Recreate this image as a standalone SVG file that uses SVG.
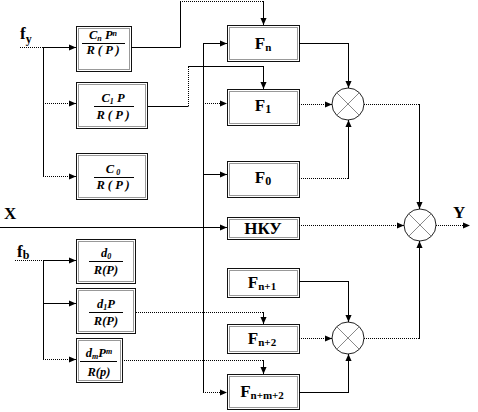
<svg xmlns="http://www.w3.org/2000/svg" width="478" height="412" viewBox="0 0 478 412">
<defs>
<marker id="ah" viewBox="0 0 8 8" refX="8" refY="4" markerWidth="7" markerHeight="7" markerUnits="userSpaceOnUse" orient="auto">
<path d="M0,0.5 L8,4 L0,7.5 Z" fill="#000"/>
</marker>
<style>
.s{fill:none;stroke:#000;stroke-width:1}
.d{fill:none;stroke:#000;stroke-width:1;stroke-dasharray:1 1}
.a{marker-end:url(#ah)}
.box{fill:#fff;stroke:#111;stroke-width:1}
.in{fill:none;stroke:#999;stroke-width:1}
.fr{font-family:"Liberation Serif",serif;font-weight:bold;font-style:italic;font-size:12.5px;text-anchor:middle}
.fl{stroke:#000;stroke-width:1}
.F{font-family:"Liberation Serif",serif;font-weight:bold;font-size:17px;text-anchor:middle}
.lb{font-family:"Liberation Serif",serif;font-weight:bold;font-size:17px}
.sum{fill:#fff;stroke:#222;stroke-width:1}
.x{stroke:#888;stroke-width:1}
</style>
</defs>

<g id="labels">
<text class="lb" x="20" y="39">f<tspan font-size="12" dy="4">y</tspan></text>
<text class="lb" x="17" y="257">f<tspan font-size="12" dy="2">b</tspan></text>
<text class="lb" x="4" y="219">X</text>
<text class="lb" x="453" y="218">Y</text>
</g>

<g id="Cn">
<rect class="box" x="76.5" y="26.5" width="55" height="45"/>
<rect class="in" x="78.5" y="28.5" width="51" height="41"/>
<text class="fr" x="103" y="39">C<tspan font-size="8" dy="2">n</tspan><tspan dy="-2"> P</tspan><tspan font-size="8" dy="-3">n</tspan></text>
<line class="fl" x1="82" y1="43.5" x2="125" y2="43.5"/>
<text class="fr" x="103" y="54">R ( P )</text>
</g>
<g id="C1">
<rect class="box" x="76.5" y="82.5" width="71" height="46"/>
<rect class="in" x="78.5" y="84.5" width="67" height="42"/>
<text class="fr" x="113" y="102">C<tspan font-size="8" dy="2">1</tspan><tspan dy="-2"> P</tspan></text>
<line class="fl" x1="94" y1="106.5" x2="134" y2="106.5"/>
<text class="fr" x="113" y="119">R ( P )</text>
</g>
<g id="C0">
<rect class="box" x="76.5" y="153.5" width="71" height="46"/>
<rect class="in" x="78.5" y="155.5" width="67" height="42"/>
<text class="fr" x="113" y="173">C<tspan font-size="8" dy="2"> 0</tspan></text>
<line class="fl" x1="94" y1="177.5" x2="134" y2="177.5"/>
<text class="fr" x="113" y="189">R ( P )</text>
</g>
<g id="d0">
<rect class="box" x="76.5" y="239.5" width="59" height="44"/>
<rect class="in" x="78.5" y="241.5" width="55" height="40"/>
<text class="fr" x="106" y="257">d<tspan font-size="8" dy="2">0</tspan></text>
<line class="fl" x1="89" y1="261.5" x2="123" y2="261.5"/>
<text class="fr" x="106" y="274">R(P)</text>
</g>
<g id="d1">
<rect class="box" x="76.5" y="288.5" width="59" height="45"/>
<rect class="in" x="78.5" y="290.5" width="55" height="41"/>
<text class="fr" x="106" y="308">d<tspan font-size="8" dy="2">1</tspan><tspan dy="-2">P</tspan></text>
<line class="fl" x1="89" y1="312.5" x2="123" y2="312.5"/>
<text class="fr" x="106" y="325">R(P)</text>
</g>
<g id="dm">
<rect class="box" x="76.5" y="338.5" width="46" height="44"/>
<rect class="in" x="78.5" y="340.5" width="42" height="40"/>
<text class="fr" x="99" y="357">d<tspan font-size="8" dy="2">m</tspan><tspan dy="-2">P</tspan><tspan font-size="8" dy="-3">m</tspan></text>
<line class="fl" x1="80" y1="361.5" x2="117" y2="361.5"/>
<text class="fr" x="99" y="376" font-size="13">R(p)</text>
</g>

<g id="Fn">
<rect class="box" x="227.5" y="25.5" width="72" height="36"/>
<rect class="in" x="229.5" y="27.5" width="68" height="32"/>
<text class="F" x="263" y="49">F<tspan font-size="11" dy="2">n</tspan></text>
</g>
<g id="F1">
<rect class="box" x="227.5" y="89.5" width="72" height="36"/>
<rect class="in" x="229.5" y="91.5" width="68" height="32"/>
<text class="F" x="263" y="111">F<tspan font-size="12" dy="2">1</tspan></text>
</g>
<g id="F0">
<rect class="box" x="227.5" y="161.5" width="72" height="36"/>
<rect class="in" x="229.5" y="163.5" width="68" height="32"/>
<text class="F" x="263" y="183">F<tspan font-size="12" dy="2">0</tspan></text>
</g>
<g id="NKU">
<rect class="box" x="227.5" y="217.5" width="72" height="22"/>
<rect class="in" x="229.5" y="219.5" width="68" height="18"/>
<text class="F" x="263" y="234" font-size="17">НКУ</text>
</g>
<g id="Fn1">
<rect class="box" x="227.5" y="268.5" width="72" height="29"/>
<rect class="in" x="229.5" y="270.5" width="68" height="25"/>
<text class="F" x="262" y="288">F<tspan font-size="11" dy="2">n+1</tspan></text>
</g>
<g id="Fn2">
<rect class="box" x="227.5" y="324.5" width="72" height="29"/>
<rect class="in" x="229.5" y="326.5" width="68" height="25"/>
<text class="F" x="262" y="344">F<tspan font-size="11" dy="2">n+2</tspan></text>
</g>
<g id="Fnm2">
<rect class="box" x="227.5" y="374.5" width="72" height="35"/>
<rect class="in" x="229.5" y="376.5" width="68" height="31"/>
<text class="F" x="262" y="397">F<tspan font-size="11" dy="2">n+m+2</tspan></text>
</g>

<g id="sum1">
<circle class="sum" cx="348" cy="104" r="16"/>
<line class="x" x1="336.7" y1="92.7" x2="359.3" y2="115.3"/>
<line class="x" x1="359.3" y1="92.7" x2="336.7" y2="115.3"/>
</g>
<g id="sum2">
<circle class="sum" cx="420" cy="225" r="16"/>
<line class="x" x1="408.7" y1="213.7" x2="431.3" y2="236.3"/>
<line class="x" x1="431.3" y1="213.7" x2="408.7" y2="236.3"/>
</g>
<g id="sum3">
<circle class="sum" cx="348" cy="338" r="16"/>
<line class="x" x1="336.7" y1="326.7" x2="359.3" y2="349.3"/>
<line class="x" x1="359.3" y1="326.7" x2="336.7" y2="349.3"/>
</g>

<g id="connectors">
<path class="d" d="M20,47.5 H43"/>
<path class="s a" d="M43,47.5 H76"/>
<path class="s" d="M43.5,47 V176"/>
<path class="d a" d="M43,103.5 H76"/>
<path class="d a" d="M43,176.5 H76"/>
<path class="s" d="M131,47.5 H180.5 V1.5"/>
<path class="d" d="M180,1.5 H263"/>
<path class="s a" d="M263.5,1 V25"/>
<path class="s" d="M148,106.5 H188.5"/>
<path class="d" d="M188.5,106 V66.5"/>
<path class="s" d="M188,66.5 H263.5"/>
<path class="s a" d="M263.5,66 V89"/>
<path class="s" d="M203.5,43 V392.5"/>
<path class="s a" d="M203,43.5 H227"/>
<path class="d a" d="M203,103.5 H227"/>
<path class="s a" d="M203,174.5 H227"/>
<path class="s a" d="M0,227.5 H227"/>
<path class="d a" d="M203,392.5 H227"/>
<path class="s" d="M299,43.5 H348.5"/>
<path class="s a" d="M348.5,43 V88"/>
<path class="d a" d="M299,104.5 H332"/>
<path class="d" d="M299,178.5 H348.5"/>
<path class="s a" d="M348.5,179 V120"/>
<path class="d" d="M364,104.5 H419.5"/>
<path class="s a" d="M419.5,104 V209"/>
<path class="d a" d="M299,225.5 H404"/>
<path class="d a" d="M436,225.5 H470"/>
<path class="s" d="M299,281.5 H348.5"/>
<path class="s a" d="M348.5,281 V322"/>
<path class="d a" d="M299,338.5 H332"/>
<path class="s" d="M299,392.5 H348.5"/>
<path class="s a" d="M348.5,393 V354"/>
<path class="d" d="M364,338.5 H419.5"/>
<path class="s a" d="M419.5,339 V241"/>
<path class="d" d="M15,260.5 H43"/>
<path class="s a" d="M43,260.5 H76"/>
<path class="s" d="M43.5,260 V359"/>
<path class="s a" d="M43,303.5 H76"/>
<path class="d a" d="M43,359.5 H76"/>
<path class="d" d="M136,312.5 H263.5"/>
<path class="s a" d="M263.5,312 V324"/>
<path class="d" d="M122,360.5 H263.5"/>
<path class="s a" d="M263.5,360 V374"/>
</g>
</svg>
